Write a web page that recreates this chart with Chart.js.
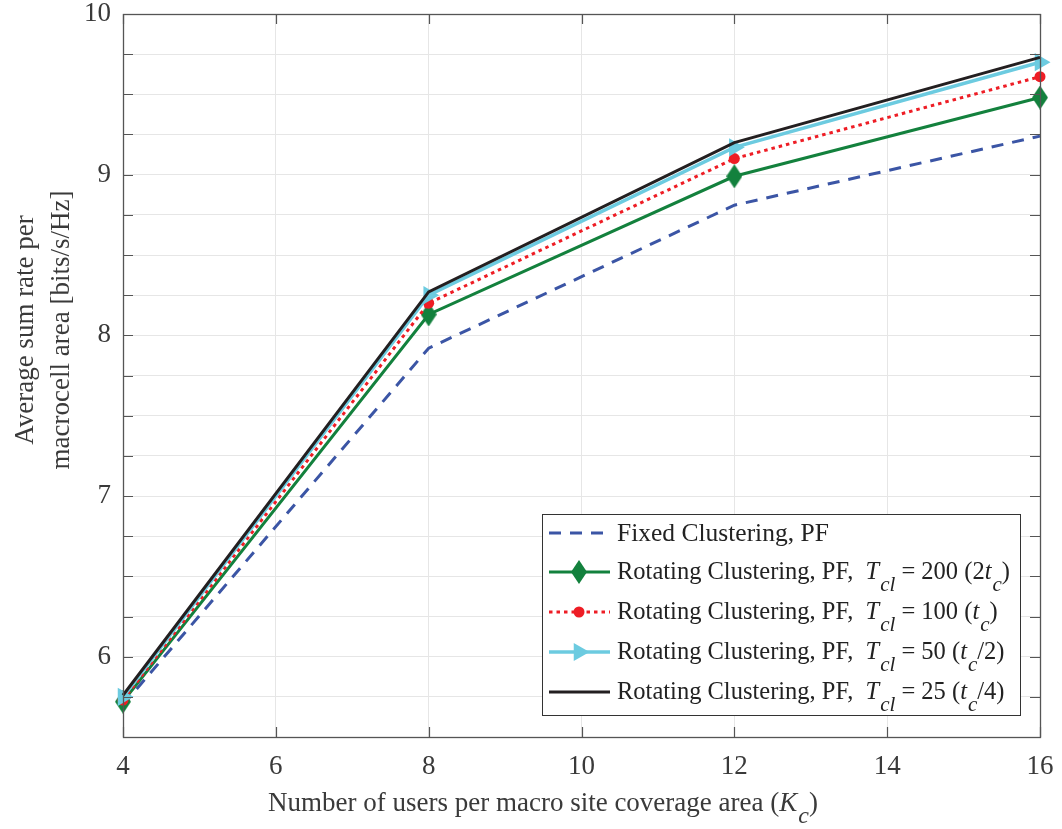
<!DOCTYPE html>
<html>
<head>
<meta charset="utf-8">
<script src="https://cdn.jsdelivr.net/npm/chart.js@4.4.1/dist/chart.umd.min.js"></script>
<style>
  body { margin: 0; background: #fff; }
  #wrap { width: 1062px; height: 829px; position: relative; }
</style>
</head>
<body>
<div id="wrap"><canvas id="myChart"></canvas></div>
<script>
// data
const users = [4, 8, 12, 16];
const fixedPF = [5.70, 7.92, 8.81, 9.24];
const rot200 = [5.72, 8.13, 8.99, 9.48];
const rot100 = [5.73, 8.20, 9.10, 9.61];
const rot50 = [5.75, 8.25, 9.17, 9.70];
const rot25 = [5.76, 8.27, 9.20, 9.73];

const xTicks = [4, 6, 8, 10, 12, 14, 16];
const yLabels = [6, 7, 8, 9, 10];

const legendParts = [
    [{ t: 'Fixed Clustering, PF' }],
    [{ t: 'Rotating Clustering, PF,  ' }, { t: 'T', it: 1 }, { t: 'cl', it: 1, sub: 1 }, { t: ' = 200 (2' }, { t: 't', it: 1 }, { t: 'c', it: 1, sub: 1 }, { t: ')' }],
    [{ t: 'Rotating Clustering, PF,  ' }, { t: 'T', it: 1 }, { t: 'cl', it: 1, sub: 1 }, { t: ' = 100 (' }, { t: 't', it: 1 }, { t: 'c', it: 1, sub: 1 }, { t: ')' }],
    [{ t: 'Rotating Clustering, PF,  ' }, { t: 'T', it: 1 }, { t: 'cl', it: 1, sub: 1 }, { t: ' = 50 (' }, { t: 't', it: 1 }, { t: 'c', it: 1, sub: 1 }, { t: '/2)' }],
    [{ t: 'Rotating Clustering, PF,  ' }, { t: 'T', it: 1 }, { t: 'cl', it: 1, sub: 1 }, { t: ' = 25 (' }, { t: 't', it: 1 }, { t: 'c', it: 1, sub: 1 }, { t: '/4)' }]
];

const FONT = '"Liberation Serif", "Times New Roman", serif';
const TXT = '#3a3a3a';

// tall diamond marker like MATLAB's
function diamond(color) {
    let c = document.createElement('canvas');
    c.width = 16; c.height = 24;
    let g = c.getContext('2d');
    g.fillStyle = color;
    g.beginPath();
    g.moveTo(8, 0); g.lineTo(16, 12); g.lineTo(8, 24); g.lineTo(0, 12);
    g.closePath();
    g.fill();
    return c;
}

function pts(arr) {
    return users.map((u, i) => ({ x: u, y: arr[i] }));
}

const datasets = [
    { data: pts(fixedPF), borderColor: '#3b55a5', borderWidth: 3, borderDash: [12, 9], pointRadius: 0, order: 5 },
    { data: pts(rot200), borderColor: '#13813d', borderWidth: 3, pointStyle: diamond('#13813d'), pointRadius: 10, order: 4 },
    { data: pts(rot100), borderColor: '#ee1d25', borderWidth: 3, borderDash: [3.5, 4], pointStyle: 'circle', pointRadius: 5.5,
      pointBackgroundColor: '#ee1d25', order: 3 },
    { data: pts(rot50), borderColor: '#6ccbe0', borderWidth: 3.5, pointStyle: 'triangle', rotation: 90, pointRadius: 10.5,
      pointBackgroundColor: '#6ccbe0', order: 2 },
    { data: pts(rot25), borderColor: '#231f20', borderWidth: 3, pointRadius: 0, order: 1 }
];
datasets.forEach(d => {
    d.fill = false; d.tension = 0; d.clip = false;
    if (!d.pointBackgroundColor) d.pointBackgroundColor = d.borderColor;
    d.pointBorderWidth = 0;
});

function drawRich(ctx, x, y, parts, size, subSize) {
    for (let p of parts) {
        let fs = p.sub ? subSize : size;
        ctx.font = (p.it ? 'italic ' : '') + fs + 'px ' + FONT;
        ctx.fillText(p.t, x, y + (p.sub ? 12 : 0));
        x += ctx.measureText(p.t).width + (p.it && !p.sub ? 1 : 0);
    }
    return x;
}

const decorPlugin = {
    id: 'decor',
    afterDraw(chart) {
        const ctx = chart.ctx;
        const a = chart.chartArea;
        const xs = chart.scales.x, ys = chart.scales.y;
        ctx.save();
        // inward ticks
        ctx.strokeStyle = '#555';
        ctx.lineWidth = 1.2;
        ctx.beginPath();
        for (let v = 5.5; v <= 10.001; v += 0.25) {
            let py = Math.round(ys.getPixelForValue(v)) + 0.5;
            ctx.moveTo(a.left, py); ctx.lineTo(a.left + 10, py);
            ctx.moveTo(a.right, py); ctx.lineTo(a.right - 10, py);
        }
        for (let v of xTicks) {
            let px = Math.round(xs.getPixelForValue(v)) + 0.5;
            ctx.moveTo(px, a.bottom); ctx.lineTo(px, a.bottom - 10);
            ctx.moveTo(px, a.top); ctx.lineTo(px, a.top + 10);
        }
        ctx.stroke();
        // box
        ctx.lineWidth = 1.3;
        ctx.strokeRect(a.left + 0.5, a.top + 0.5, a.right - a.left, a.bottom - a.top);

        // legend
        const lx = 542, ly = 514, lw = 478, lh = 201;
        ctx.fillStyle = '#fff';
        ctx.fillRect(lx, ly, lw, lh);
        ctx.strokeStyle = '#333';
        ctx.lineWidth = 1;
        ctx.strokeRect(lx + 0.5, ly + 0.5, lw, lh);
        const rows = [533, 572, 612, 652, 692];
        ctx.textBaseline = 'middle';
        ctx.textAlign = 'left';
        datasets.forEach((d, i) => {
            let yy = rows[i];
            ctx.save();
            ctx.strokeStyle = d.borderColor;
            ctx.lineWidth = d.borderWidth;
            ctx.setLineDash(d.borderDash || []);
            ctx.beginPath();
            ctx.moveTo(549, yy); ctx.lineTo(610, yy);
            ctx.stroke();
            ctx.setLineDash([]);
            if (d.pointRadius > 0) {
                ctx.fillStyle = d.pointBackgroundColor;
                Chart.helpers.drawPoint(ctx, { pointStyle: d.pointStyle, radius: d.pointRadius, rotation: d.rotation || 0, borderWidth: 0 }, 579, yy);
            }
            ctx.restore();
            ctx.fillStyle = '#222';
            drawRich(ctx, 617, yy + 1, legendParts[i], i === 0 ? 25.5 : 24.5, 21);
        });

        // x axis title
        ctx.fillStyle = TXT;
        ctx.textBaseline = 'alphabetic';
        drawRich(ctx, 268, 811, [{ t: 'Number of users per macro site coverage area (' }, { t: 'K', it: 1 }, { t: 'c', it: 1, sub: 1 }, { t: ')' }], 27, 24);

        // y axis title
        ctx.save();
        ctx.translate(26, 330);
        ctx.rotate(-Math.PI / 2);
        ctx.textAlign = 'center';
        ctx.textBaseline = 'middle';
        ctx.font = '27px ' + FONT;
        ctx.fillText('Average sum rate per', 0, 0);
        ctx.fillText('macrocell area [bits/s/Hz]', 0, 36);
        ctx.restore();
        ctx.restore();
    }
};

var ctx = document.getElementById('myChart');
var chart = new Chart(ctx, {
    type: 'line',
    data: { datasets: datasets },
    options: {
        responsive: true,
        maintainAspectRatio: false,
        animation: false,
        layout: { padding: { top: 14, right: 22, left: 0, bottom: 0 } },
        plugins: { legend: { display: false }, tooltip: { enabled: false } },
        scales: {
            x: {
                type: 'linear', min: 4, max: 16,
                afterFit: s => { s.height = 92; s.paddingLeft = 0; s.paddingRight = 0; },
                afterBuildTicks: s => { s.ticks = xTicks.map(v => ({ value: v })); },
                ticks: { font: { family: FONT, size: 27 }, color: TXT, padding: 14, maxRotation: 0 },
                grid: { color: '#e6e6e6', lineWidth: 1, drawTicks: false },
                border: { display: false }
            },
            y: {
                type: 'linear', min: 5.5, max: 10,
                afterFit: s => { s.width = 123; s.paddingTop = 0; s.paddingBottom = 0; },
                ticks: {
                    stepSize: 0.25, autoSkip: false,
                    font: { family: FONT, size: 27 }, color: TXT, padding: 12,
                    callback: v => yLabels.includes(v) ? String(v) : ''
                },
                grid: { color: '#e6e6e6', lineWidth: 1, drawTicks: false },
                border: { display: false }
            }
        }
    },
    plugins: [decorPlugin]
});
</script>
</body>
</html>
